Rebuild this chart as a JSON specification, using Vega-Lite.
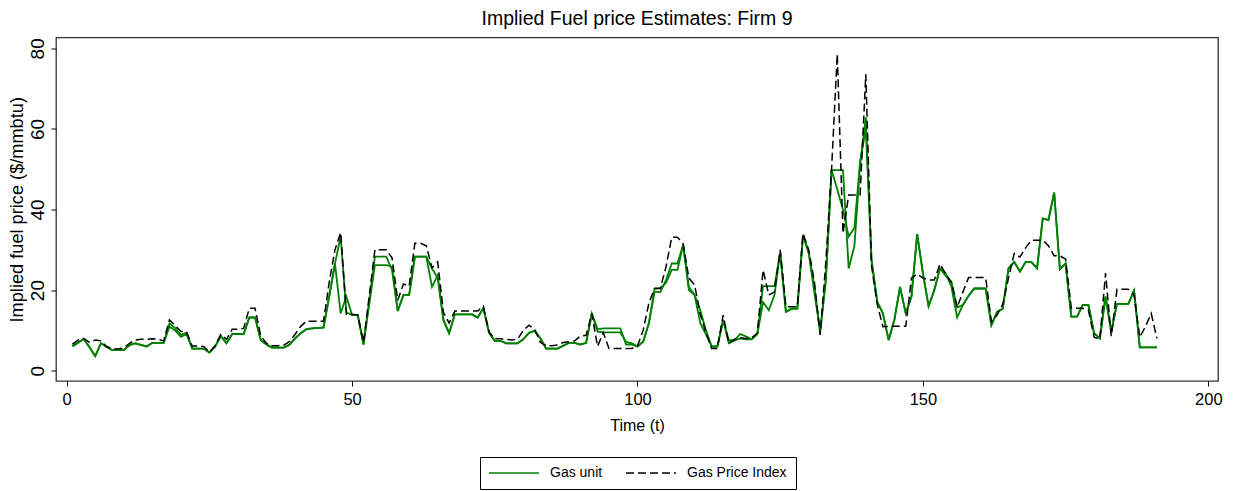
{
  "$schema": "https://vega.github.io/schema/vega-lite/v6.json",
  "width": 1162,
  "height": 343.5,
  "autosize": "none",
  "padding": {"left": 56, "top": 37.5, "right": 15, "bottom": 110},
  "background": "white",
  "config": {
    "font": "Liberation Sans",
    "view": {"stroke": "#333333", "strokeWidth": 1.3},
    "axis": {"grid": false, "domain": false, "tickColor": "#000000", "labelColor": "#000000", "titleColor": "#000000", "titleFontWeight": "normal", "tickSize": 5}
  },
  "title": {"text": "Implied Fuel price Estimates: Firm 9", "fontSize": 19.5, "fontWeight": "normal", "color": "#000000", "anchor": "middle", "offset": 8.5},
  "data": {"values": [
    {"t":1,"a":6.2,"b":6.0,"p":6.6},{"t":2,"a":7.0,"b":6.9,"p":7.6},{"t":3,"a":7.9,"b":7.9,"p":8.0},{"t":4,"a":5.8,"b":5.8,"p":7.0},{"t":5,"a":3.6,"b":3.6,"p":7.6},
    {"t":6,"a":6.8,"b":6.8,"p":7.4},{"t":7,"a":5.9,"b":5.9,"p":6.0},{"t":8,"a":5.1,"b":5.1,"p":5.5},{"t":9,"a":5.1,"b":5.1,"p":5.4},{"t":10,"a":5.1,"b":5.1,"p":5.6},
    {"t":11,"a":6.3,"b":6.4,"p":6.8},{"t":12,"a":6.8,"b":6.8,"p":7.6},{"t":13,"a":6.4,"b":6.4,"p":7.8},{"t":14,"a":6.0,"b":6.0,"p":7.8},{"t":15,"a":6.9,"b":6.9,"p":7.9},
    {"t":16,"a":6.9,"b":6.9,"p":7.8},{"t":17,"a":6.9,"b":6.9,"p":7.4},{"t":18,"a":10.9,"b":11.7,"p":12.6},{"t":19,"a":10.0,"b":10.6,"p":11.2},{"t":20,"a":8.4,"b":8.9,"p":9.8},
    {"t":21,"a":9.0,"b":9.4,"p":9.6},{"t":22,"a":5.5,"b":5.5,"p":6.1},{"t":23,"a":5.5,"b":5.5,"p":6.1},{"t":24,"a":5.5,"b":5.5,"p":6.0},{"t":25,"a":4.5,"b":4.5,"p":4.6},
    {"t":26,"a":6.0,"b":6.0,"p":6.2},{"t":27,"a":8.6,"b":8.6,"p":9.0},{"t":28,"a":6.8,"b":6.8,"p":7.8},{"t":29,"a":9.1,"b":9.1,"p":10.3},{"t":30,"a":9.1,"b":9.1,"p":10.3},
    {"t":31,"a":9.1,"b":9.1,"p":10.5},{"t":32,"a":13.2,"b":13.2,"p":15.5},{"t":33,"a":13.2,"b":13.2,"p":15.5},{"t":34,"a":7.6,"b":7.6,"p":8.6},{"t":35,"a":6.5,"b":6.5,"p":6.8},
    {"t":36,"a":5.7,"b":5.7,"p":6.2},{"t":37,"a":5.7,"b":5.7,"p":6.2},{"t":38,"a":5.7,"b":5.7,"p":6.3},{"t":39,"a":6.4,"b":6.4,"p":7.2},{"t":40,"a":8.0,"b":8.0,"p":9.0},
    {"t":41,"a":9.3,"b":9.3,"p":11.0},{"t":42,"a":10.3,"b":10.3,"p":12.3},{"t":43,"a":10.5,"b":10.5,"p":12.3},{"t":44,"a":10.6,"b":10.6,"p":12.3},{"t":45,"a":10.7,"b":10.7,"p":12.3},
    {"t":46,"a":18.5,"b":18.5,"p":22.0},{"t":47,"a":26.6,"b":26.6,"p":30.0},{"t":48,"a":33.3,"b":14.2,"p":34.3},{"t":49,"a":14.5,"b":18.4,"p":14.0},{"t":50,"a":13.8,"b":13.8,"p":14.0},
    {"t":51,"a":13.8,"b":13.8,"p":13.8},{"t":52,"a":6.5,"b":6.5,"p":7.0},{"t":53,"a":17.4,"b":16.4,"p":18.5},{"t":54,"a":28.3,"b":26.2,"p":30.0},{"t":55,"a":28.3,"b":26.2,"p":30.0},
    {"t":56,"a":28.3,"b":26.2,"p":30.0},{"t":57,"a":25.0,"b":25.8,"p":28.0},{"t":58,"a":14.8,"b":14.8,"p":17.5},{"t":59,"a":18.8,"b":18.8,"p":21.5},{"t":60,"a":18.8,"b":18.8,"p":21.0},
    {"t":61,"a":28.3,"b":28.3,"p":31.6},{"t":62,"a":28.3,"b":28.3,"p":31.6},{"t":63,"a":28.3,"b":28.3,"p":31.0},{"t":64,"a":20.8,"b":25.4,"p":25.5},{"t":65,"a":23.7,"b":23.0,"p":27.0},
    {"t":66,"a":12.6,"b":12.6,"p":14.5},{"t":67,"a":9.3,"b":9.3,"p":11.8},{"t":68,"a":14.0,"b":14.0,"p":14.8},{"t":69,"a":14.0,"b":14.0,"p":14.8},{"t":70,"a":14.0,"b":14.0,"p":14.8},
    {"t":71,"a":14.0,"b":14.0,"p":14.8},{"t":72,"a":13.2,"b":13.2,"p":14.8},{"t":73,"a":15.5,"b":15.5,"p":16.0},{"t":74,"a":9.4,"b":9.4,"p":9.6},{"t":75,"a":7.4,"b":7.4,"p":7.9},
    {"t":76,"a":7.4,"b":7.4,"p":7.9},{"t":77,"a":6.8,"b":6.8,"p":7.8},{"t":78,"a":6.8,"b":6.8,"p":7.6},{"t":79,"a":6.8,"b":6.8,"p":7.8},{"t":80,"a":7.8,"b":7.8,"p":10.0},
    {"t":81,"a":9.4,"b":9.4,"p":11.3},{"t":82,"a":9.9,"b":9.9,"p":10.2},{"t":83,"a":8.0,"b":8.0,"p":7.0},{"t":84,"a":5.5,"b":5.5,"p":6.2},{"t":85,"a":5.5,"b":5.5,"p":6.2},
    {"t":86,"a":5.5,"b":5.5,"p":6.4},{"t":87,"a":6.2,"b":6.2,"p":7.0},{"t":88,"a":6.9,"b":6.9,"p":7.2},{"t":89,"a":6.9,"b":6.9,"p":7.4},{"t":90,"a":6.5,"b":6.5,"p":8.6},
    {"t":91,"a":6.9,"b":6.9,"p":8.8},{"t":92,"a":14.2,"b":14.2,"p":14.2},{"t":93,"a":9.7,"b":10.3,"p":6.0},{"t":94,"a":9.5,"b":10.5,"p":9.5},{"t":95,"a":9.5,"b":10.5,"p":5.5},
    {"t":96,"a":9.5,"b":10.5,"p":5.5},{"t":97,"a":9.5,"b":10.5,"p":5.5},{"t":98,"a":7.2,"b":6.5,"p":5.5},{"t":99,"a":6.8,"b":6.5,"p":5.5},{"t":100,"a":6.0,"b":6.0,"p":6.2},
    {"t":101,"a":7.2,"b":7.2,"p":10.0},{"t":102,"a":11.8,"b":11.8,"p":16.8},{"t":103,"a":19.6,"b":20.4,"p":20.4},{"t":104,"a":19.5,"b":20.5,"p":20.4},{"t":105,"a":22.5,"b":21.8,"p":25.8},
    {"t":106,"a":26.6,"b":25.0,"p":33.1},{"t":107,"a":26.6,"b":25.0,"p":33.1},{"t":108,"a":31.2,"b":31.2,"p":31.5},{"t":109,"a":20.0,"b":20.8,"p":23.0},{"t":110,"a":18.8,"b":18.8,"p":21.3},
    {"t":111,"a":11.8,"b":15.0,"p":14.0},{"t":112,"a":9.0,"b":10.0,"p":9.5},{"t":113,"a":6.0,"b":6.0,"p":5.5},{"t":114,"a":6.0,"b":6.0,"p":5.5},{"t":115,"a":12.6,"b":12.6,"p":13.8},
    {"t":116,"a":6.8,"b":7.6,"p":6.8},{"t":117,"a":7.5,"b":7.5,"p":7.8},{"t":118,"a":9.1,"b":8.0,"p":8.2},{"t":119,"a":8.5,"b":7.8,"p":8.0},{"t":120,"a":7.8,"b":7.8,"p":8.2},
    {"t":121,"a":9.1,"b":9.1,"p":9.3},{"t":122,"a":21.0,"b":17.0,"p":25.0},{"t":123,"a":21.0,"b":15.0,"p":18.8},{"t":124,"a":21.0,"b":18.8,"p":19.5},{"t":125,"a":29.3,"b":29.3,"p":30.0},
    {"t":126,"a":14.6,"b":14.6,"p":15.9},{"t":127,"a":15.4,"b":15.4,"p":15.9},{"t":128,"a":15.4,"b":15.4,"p":15.9},{"t":129,"a":33.7,"b":33.7,"p":34.0},{"t":130,"a":29.5,"b":29.1,"p":30.0},
    {"t":131,"a":20.8,"b":19.2,"p":22.0},{"t":132,"a":9.3,"b":10.1,"p":8.9},{"t":133,"a":22.5,"b":22.5,"p":27.0},{"t":134,"a":49.8,"b":49.8,"p":50.0},{"t":135,"a":49.8,"b":45.0,"p":78.6},
    {"t":136,"a":49.8,"b":40.0,"p":34.1},{"t":137,"a":25.4,"b":33.3,"p":43.6},{"t":138,"a":30.9,"b":35.4,"p":43.6},{"t":139,"a":51.0,"b":52.0,"p":43.6},{"t":140,"a":62.9,"b":60.0,"p":73.6},
    {"t":141,"a":27.5,"b":27.5,"p":26.0},{"t":142,"a":17.1,"b":17.1,"p":16.5},{"t":143,"a":14.2,"b":14.2,"p":10.9},{"t":144,"a":7.6,"b":7.6,"p":11.0},{"t":145,"a":12.6,"b":12.6,"p":11.0},
    {"t":146,"a":20.8,"b":20.8,"p":11.0},{"t":147,"a":14.2,"b":14.2,"p":11.0},{"t":148,"a":18.4,"b":18.4,"p":23.0},{"t":149,"a":33.9,"b":33.9,"p":24.0},{"t":150,"a":24.2,"b":24.2,"p":23.0},
    {"t":151,"a":16.0,"b":16.0,"p":22.5},{"t":152,"a":20.0,"b":20.0,"p":22.5},{"t":153,"a":25.4,"b":25.4,"p":26.5},{"t":154,"a":24.2,"b":23.5,"p":24.0},{"t":155,"a":20.8,"b":22.0,"p":22.0},
    {"t":156,"a":13.2,"b":15.7,"p":15.7},{"t":157,"a":16.3,"b":16.3,"p":19.5},{"t":158,"a":18.6,"b":18.6,"p":23.1},{"t":159,"a":20.4,"b":20.4,"p":23.1},{"t":160,"a":20.4,"b":20.4,"p":23.1},
    {"t":161,"a":20.4,"b":20.4,"p":23.1},{"t":162,"a":11.3,"b":11.3,"p":12.2},{"t":163,"a":14.6,"b":14.6,"p":13.8},{"t":164,"a":15.4,"b":15.4,"p":16.5},{"t":165,"a":25.4,"b":25.4,"p":23.0},
    {"t":166,"a":27.0,"b":27.0,"p":29.1},{"t":167,"a":24.6,"b":24.6,"p":28.2},{"t":168,"a":27.0,"b":27.0,"p":30.5},{"t":169,"a":27.0,"b":27.0,"p":32.4},{"t":170,"a":25.4,"b":25.4,"p":32.4},
    {"t":171,"a":37.8,"b":37.8,"p":32.4},{"t":172,"a":37.4,"b":37.4,"p":31.0},{"t":173,"a":44.2,"b":44.2,"p":28.5},{"t":174,"a":25.2,"b":25.2,"p":28.5},{"t":175,"a":26.6,"b":26.6,"p":27.7},
    {"t":176,"a":13.4,"b":13.4,"p":15.5},{"t":177,"a":13.4,"b":13.4,"p":15.5},{"t":178,"a":16.3,"b":16.3,"p":15.5},{"t":179,"a":16.3,"b":16.3,"p":15.0},{"t":180,"a":9.3,"b":9.3,"p":8.3},
    {"t":181,"a":8.0,"b":8.0,"p":7.8},{"t":182,"a":18.4,"b":18.4,"p":24.2},{"t":183,"a":9.7,"b":9.7,"p":8.5},{"t":184,"a":16.6,"b":16.6,"p":20.2},{"t":185,"a":16.6,"b":16.6,"p":20.2},
    {"t":186,"a":16.6,"b":16.6,"p":20.2},{"t":187,"a":19.9,"b":19.9,"p":18.8},{"t":188,"a":5.8,"b":5.8,"p":8.3},{"t":189,"a":5.8,"b":5.8,"p":11.0},{"t":190,"a":5.8,"b":5.8,"p":14.2},
    {"t":191,"a":5.8,"b":5.8,"p":8.0}
  ]},
  "layer": [
    {
      "transform": [{"fold": ["a", "b"], "as": ["unit", "v"]}],
      "mark": {"type": "line", "strokeWidth": 1.8},
      "encoding": {
        "x": {"field": "t", "type": "quantitative", "scale": {"domain": [-1.87, 201.7], "nice": false, "zero": false},
              "axis": {"title": "Time (t)", "values": [0, 50, 100, 150, 200], "labelFontSize": 16.5, "titleFontSize": 16, "labelPadding": 5, "titlePadding": 10}},
        "y": {"field": "v", "type": "quantitative", "scale": {"domain": [-2.56, 82.7], "nice": false, "zero": false},
              "axis": {"title": "Implied fuel price ($/mmbtu)", "values": [0, 20, 40, 60, 80], "labelFontSize": 19, "titleFontSize": 18.2, "labelAngle": -90, "labelAlign": "center", "labelBaseline": "bottom", "labelPadding": 4, "titlePadding": 2}},
        "detail": {"field": "unit"},
        "color": {"datum": "Gas unit", "scale": {"domain": ["Gas unit", "Gas Price Index"], "range": ["#008000", "#000000"]},
                  "legend": {"title": null, "orient": "none", "legendX": 424, "legendY": 419.5, "direction": "horizontal", "columns": 2, "symbolType": "M-5,0H5", "symbolSize": 100, "symbolOffset": 18, "symbolStrokeWidth": 1.5, "labelFontSize": 14, "labelColor": "#000000", "labelOffset": 29, "columnPadding": 20, "padding": 9, "strokeColor": "#000000"}},
        "strokeDash": {"datum": "Gas unit", "scale": {"domain": ["Gas unit", "Gas Price Index"], "range": [[1, 0], [8, 4]]},
                  "legend": {"title": null, "orient": "none", "legendX": 424, "legendY": 419.5, "direction": "horizontal", "columns": 2, "symbolType": "M-5,0H5", "symbolSize": 100, "symbolOffset": 18, "symbolStrokeWidth": 1.5, "labelFontSize": 14, "labelColor": "#000000", "labelOffset": 29, "columnPadding": 20, "padding": 9, "strokeColor": "#000000"}}
      }
    },
    {
      "mark": {"type": "line", "strokeWidth": 1.5},
      "encoding": {
        "x": {"field": "t", "type": "quantitative"},
        "y": {"field": "p", "type": "quantitative", "title": "Implied fuel price ($/mmbtu)"},
        "color": {"datum": "Gas Price Index"},
        "strokeDash": {"datum": "Gas Price Index"}
      }
    }
  ]
}
